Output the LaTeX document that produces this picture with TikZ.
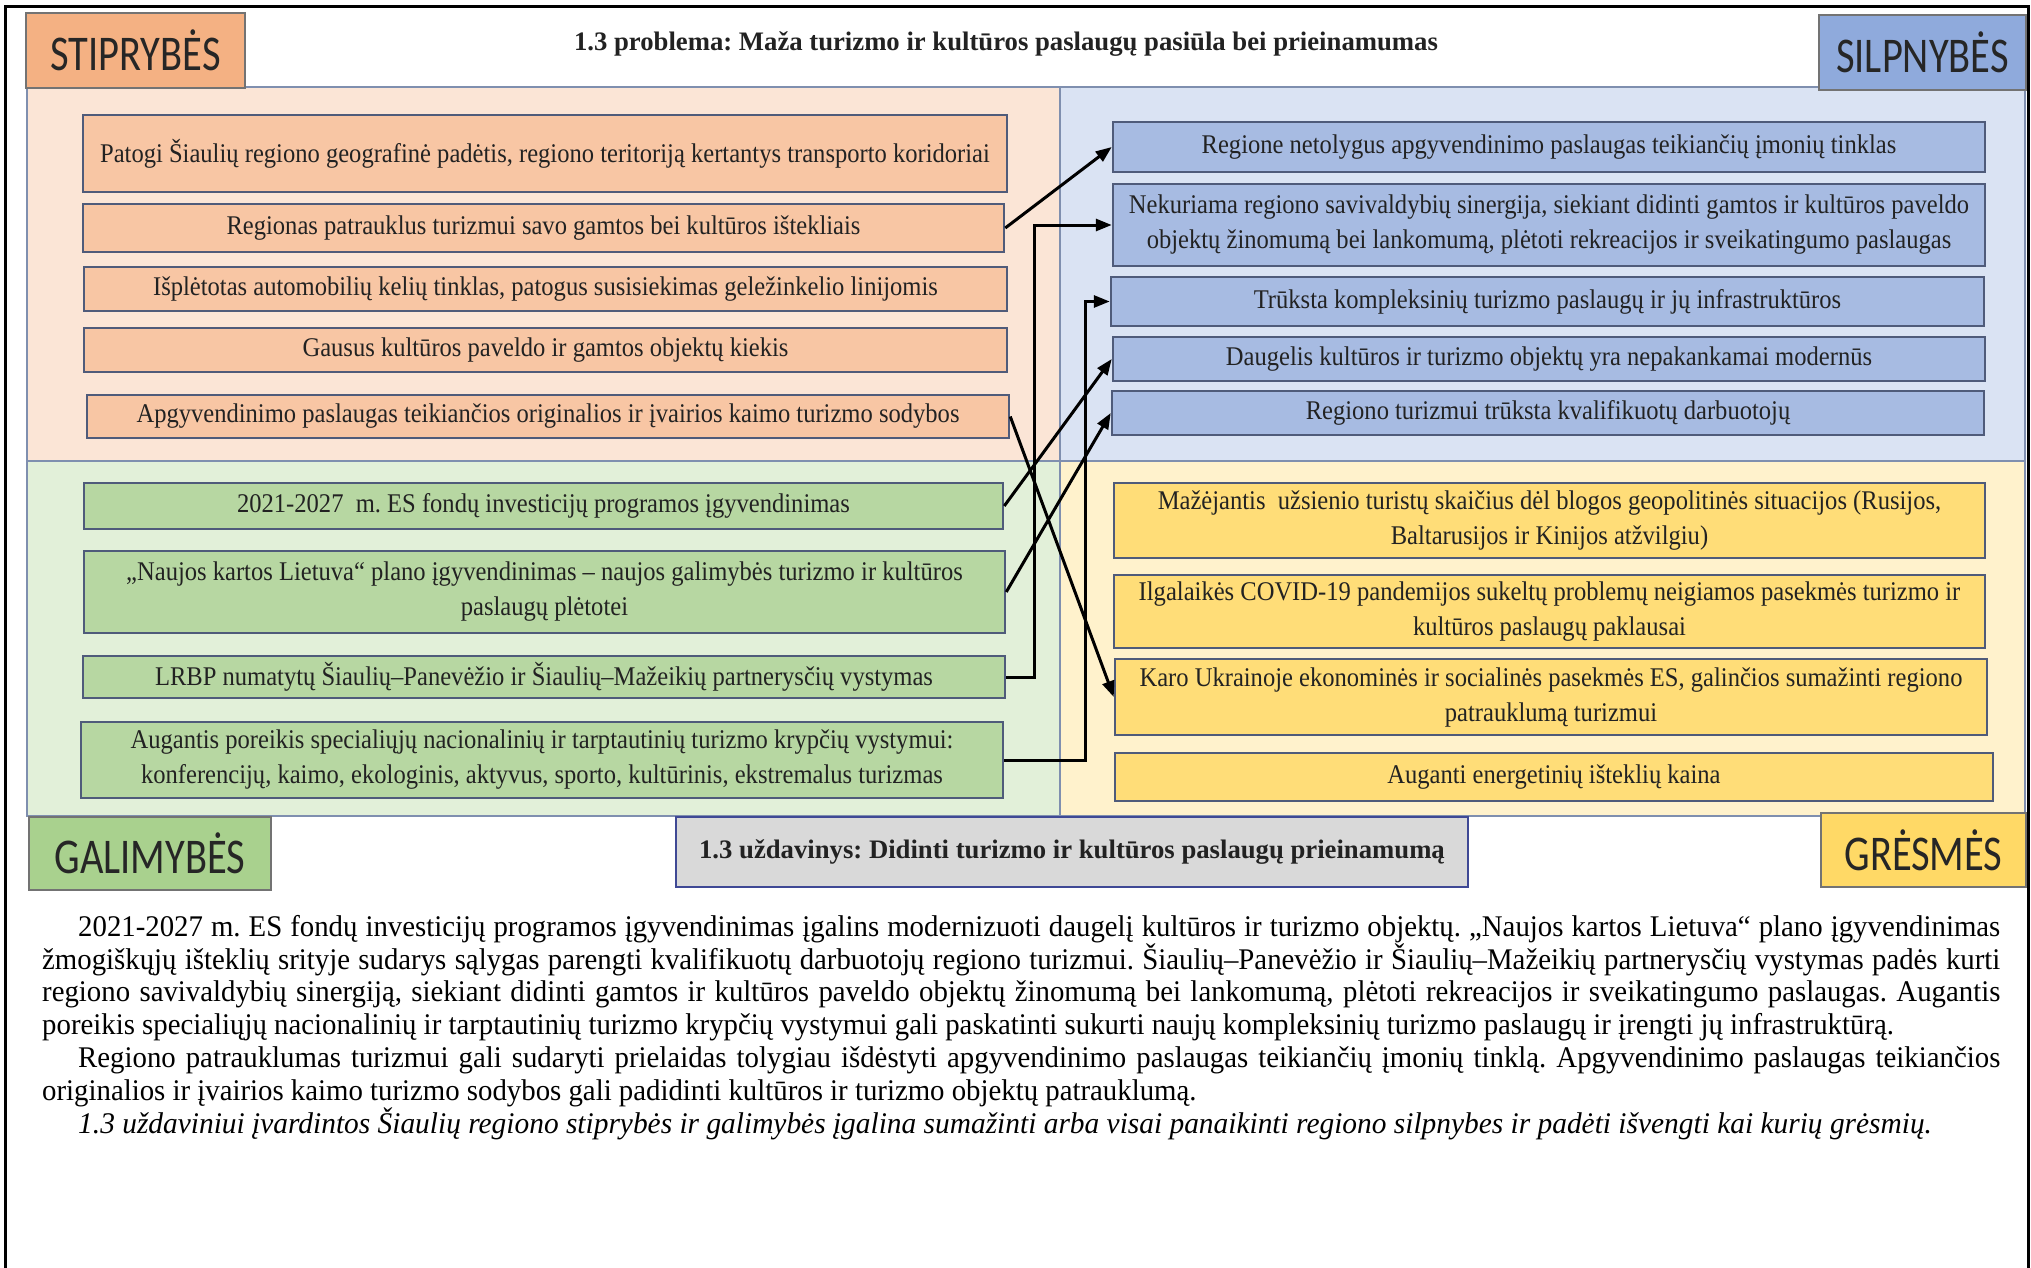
\documentclass[tikz,border=0pt]{standalone}
\usepackage{fontspec}
\setmainfont{Liberation Serif}
\newfontfamily\labfont{Carlito}[FakeStretch=0.81]
\newfontfamily\boxfont{Liberation Serif}[FakeStretch=0.91]
\newfontfamily\bodyfont{Liberation Serif}[FakeStretch=0.96]
\newfontfamily\bodyitfont{Liberation Serif}[FakeStretch=0.98]
\usetikzlibrary{arrows.meta}
\frenchspacing
\definecolor{peachQ}{HTML}{FBE5D6}
\definecolor{blueQ}{HTML}{DAE3F3}
\definecolor{greenQ}{HTML}{E2F0D9}
\definecolor{yellowQ}{HTML}{FFF2CC}
\definecolor{peachB}{HTML}{F8C6A4}
\definecolor{blueB}{HTML}{A7BBE2}
\definecolor{greenB}{HTML}{B7D7A2}
\definecolor{yellowB}{HTML}{FFDD78}
\definecolor{peachL}{HTML}{F4B183}
\definecolor{blueL}{HTML}{8FAADC}
\definecolor{greenL}{HTML}{A9D18E}
\definecolor{yellowL}{HTML}{FFD966}
\definecolor{grayL}{HTML}{D9D9D9}
\definecolor{boxline}{HTML}{4F5B7A}
\definecolor{qline}{HTML}{7F8FAF}
\definecolor{txt}{HTML}{222222}
\tikzset{
  quad/.style={draw=qline, line width=1.5pt},
  swbox/.style={draw=boxline, line width=2.5pt, inner sep=0pt, align=center,
    font=\boxfont\fontsize{27}{35}\selectfont, text=txt},
  lab/.style={draw=black!55, line width=2pt, inner sep=0pt,
    font=\labfont\fontsize{50}{50}\selectfont, text=black!85},
  heading/.style={font=\rmfamily\bfseries\fontsize{26.7}{30}\selectfont, text=txt},
  arr/.style={line width=3pt, -{Triangle[length=16pt,width=12pt]}},
}
\begin{document}
\frenchspacing
\begin{tikzpicture}[x=1pt,y=-1pt]
\useasboundingbox (0,0) rectangle (2031,1268);
% quadrants
\fill[peachQ] (27,87) rectangle (1060,461);
\fill[blueQ] (1060,87) rectangle (2025,461);
\fill[greenQ] (27,461) rectangle (1060,816);
\fill[yellowQ] (1060,461) rectangle (2025,816);
\draw[quad] (27,87) rectangle (2025,816);
\draw[quad] (1060,87) -- (1060,816);
\draw[quad] (27,461) -- (2025,461);
% frame
\draw[line width=3pt] (5,1268) -- (5,7) -- (2028,7) -- (2028,1268);
% labels
\node[lab, fill=peachL, minimum width=219pt, minimum height=75pt] (stip) at (135.5,50.5) {STIPRYBĖS};
\node[lab, fill=blueL, minimum width=207pt, minimum height=75pt] (silp) at (1922.5,52.5) {SILPNYBĖS};
\node[lab, fill=greenL, minimum width=242pt, minimum height=73pt] (gali) at (150,853.5) {GALIMYBĖS};
\node[lab, fill=yellowL, minimum width=205pt, minimum height=74pt] (gres) at (1923.5,850) {GRĖSMĖS};
\node[heading, anchor=base] (title) at (1006,51) {1.3 problema: Maža turizmo ir kultūros paslaugų pasiūla bei prieinamumas};
\node[heading, draw=boxline!80!blue, line width=2.5pt, fill=grayL, minimum width=792pt, minimum height=70pt, inner sep=0pt] (uzd) at (1072,852) {1.3 uždavinys: Didinti turizmo ir kultūros paslaugų prieinamumą};
% strengths
\node[swbox, fill=peachB, minimum width=924pt, minimum height=77pt] (s1) at (545,153.5) {Patogi Šiaulių regiono geografinė padėtis, regiono teritoriją kertantys transporto koridoriai};
\node[swbox, fill=peachB, minimum width=921pt, minimum height=48pt] (s2) at (543.5,228) {Regionas patrauklus turizmui savo gamtos bei kultūros ištekliais};
\node[swbox, fill=peachB, minimum width=923pt, minimum height=44pt] (s3) at (545.5,289) {Išplėtotas automobilių kelių tinklas, patogus susisiekimas geležinkelio linijomis};
\node[swbox, fill=peachB, minimum width=923pt, minimum height=44pt] (s4) at (545.5,350) {Gausus kultūros paveldo ir gamtos objektų kiekis};
\node[swbox, fill=peachB, minimum width=922pt, minimum height=43pt] (s5) at (548,416.5) {Apgyvendinimo paslaugas teikiančios originalios ir įvairios kaimo turizmo sodybos};
% weaknesses
\node[swbox, fill=blueB, minimum width=872pt, minimum height=50pt] (w1) at (1549,147) {Regione netolygus apgyvendinimo paslaugas teikiančių įmonių tinklas};
\node[swbox, fill=blueB, minimum width=872pt, minimum height=82pt] (w2) at (1549,225) {Nekuriama regiono savivaldybių sinergija, siekiant didinti gamtos ir kultūros paveldo\\objektų žinomumą bei lankomumą, plėtoti rekreacijos ir sveikatingumo paslaugas};
\node[swbox, fill=blueB, minimum width=873pt, minimum height=49pt] (w3) at (1547.5,301.5) {Trūksta kompleksinių turizmo paslaugų ir jų infrastruktūros};
\node[swbox, fill=blueB, minimum width=872pt, minimum height=44pt] (w4) at (1549,359) {Daugelis kultūros ir turizmo objektų yra nepakankamai modernūs};
\node[swbox, fill=blueB, minimum width=872pt, minimum height=44pt] (w5) at (1548,413) {Regiono turizmui trūksta kvalifikuotų darbuotojų};
% opportunities
\node[swbox, fill=greenB, minimum width=919pt, minimum height=46pt] (o1) at (543.5,506) {2021-2027 \ m. ES fondų investicijų programos įgyvendinimas};
\node[swbox, fill=greenB, minimum width=921pt, minimum height=82pt] (o2) at (544.5,592) {„Naujos kartos Lietuva“ plano įgyvendinimas – naujos galimybės turizmo ir kultūros\\paslaugų plėtotei};
\node[swbox, fill=greenB, minimum width=922pt, minimum height=42pt] (o3) at (544,677) {LRBP numatytų Šiaulių–Panevėžio ir Šiaulių–Mažeikių partnerysčių vystymas};
\node[swbox, fill=greenB, minimum width=922pt, minimum height=76pt] (o4) at (542,760) {Augantis poreikis specialiųjų nacionalinių ir tarptautinių turizmo krypčių vystymui:\\konferencijų, kaimo, ekologinis, aktyvus, sporto, kultūrinis, ekstremalus turizmas};
% threats
\node[swbox, fill=yellowB, minimum width=871pt, minimum height=75pt] (t1) at (1549.5,520.5) {Mažėjantis \ užsienio turistų skaičius dėl blogos geopolitinės situacijos (Rusijos,\\Baltarusijos ir Kinijos atžvilgiu)};
\node[swbox, fill=yellowB, minimum width=871pt, minimum height=73pt] (t2) at (1549.5,611.5) {Ilgalaikės COVID-19 pandemijos sukeltų problemų neigiamos pasekmės turizmo ir\\kultūros paslaugų paklausai};
\node[swbox, fill=yellowB, minimum width=872pt, minimum height=76pt] (t3) at (1551,697) {Karo Ukrainoje ekonominės ir socialinės pasekmės ES, galinčios sumažinti regiono\\patrauklumą turizmui};
\node[swbox, fill=yellowB, minimum width=878pt, minimum height=48pt] (t4) at (1554,777) {Auganti energetinių išteklių kaina};
% connectors
\draw[arr] (s2.east) -- (w1.west);
\draw[arr] (o3.east) -- ++(28,0) |- (w2.west);
\draw[arr] (o4.east) -- ++(81,0) |- (w3.west);
\draw[arr] (o1.east) -- (w4.west);
\draw[arr] (o2.east) -- (w5.west);
\draw[arr] (s5.east) -- (t3.west);
% body text
\node[anchor=north west, inner sep=0pt, text width=1958pt, align=left,
  font=\bodyfont\fontsize{30}{32.8}\selectfont, text=black] (body) at (42,915) {%
\spaceskip=0pt\xspaceskip=0pt\frenchspacing
\hspace*{36pt}\makebox[1922pt][s]{2021-2027 m. ES fondų investicijų programos įgyvendinimas įgalins modernizuoti daugelį kultūros ir turizmo objektų. „Naujos kartos Lietuva“ plano įgyvendinimas}\\
\makebox[1958pt][s]{žmogiškųjų išteklių srityje sudarys sąlygas parengti kvalifikuotų darbuotojų regiono turizmui. Šiaulių–Panevėžio ir Šiaulių–Mažeikių partnerysčių vystymas padės kurti}\\
\makebox[1958pt][s]{regiono savivaldybių sinergiją, siekiant didinti gamtos ir kultūros paveldo objektų žinomumą bei lankomumą, plėtoti rekreacijos ir sveikatingumo paslaugas. Augantis}\\
poreikis specialiųjų nacionalinių ir tarptautinių turizmo krypčių vystymui gali paskatinti sukurti naujų kompleksinių turizmo paslaugų ir įrengti jų infrastruktūrą.\\
\hspace*{36pt}\makebox[1922pt][s]{Regiono patrauklumas turizmui gali sudaryti prielaidas tolygiau išdėstyti apgyvendinimo paslaugas teikiančių įmonių tinklą. Apgyvendinimo paslaugas teikiančios}\\
originalios ir įvairios kaimo turizmo sodybos gali padidinti kultūros ir turizmo objektų patrauklumą.\\
\hspace*{36pt}{\bodyitfont\itshape 1.3 uždaviniui įvardintos Šiaulių regiono stiprybės ir galimybės įgalina sumažinti arba visai panaikinti regiono silpnybes ir padėti išvengti kai kurių grėsmių.}};
\end{tikzpicture}
\end{document}
